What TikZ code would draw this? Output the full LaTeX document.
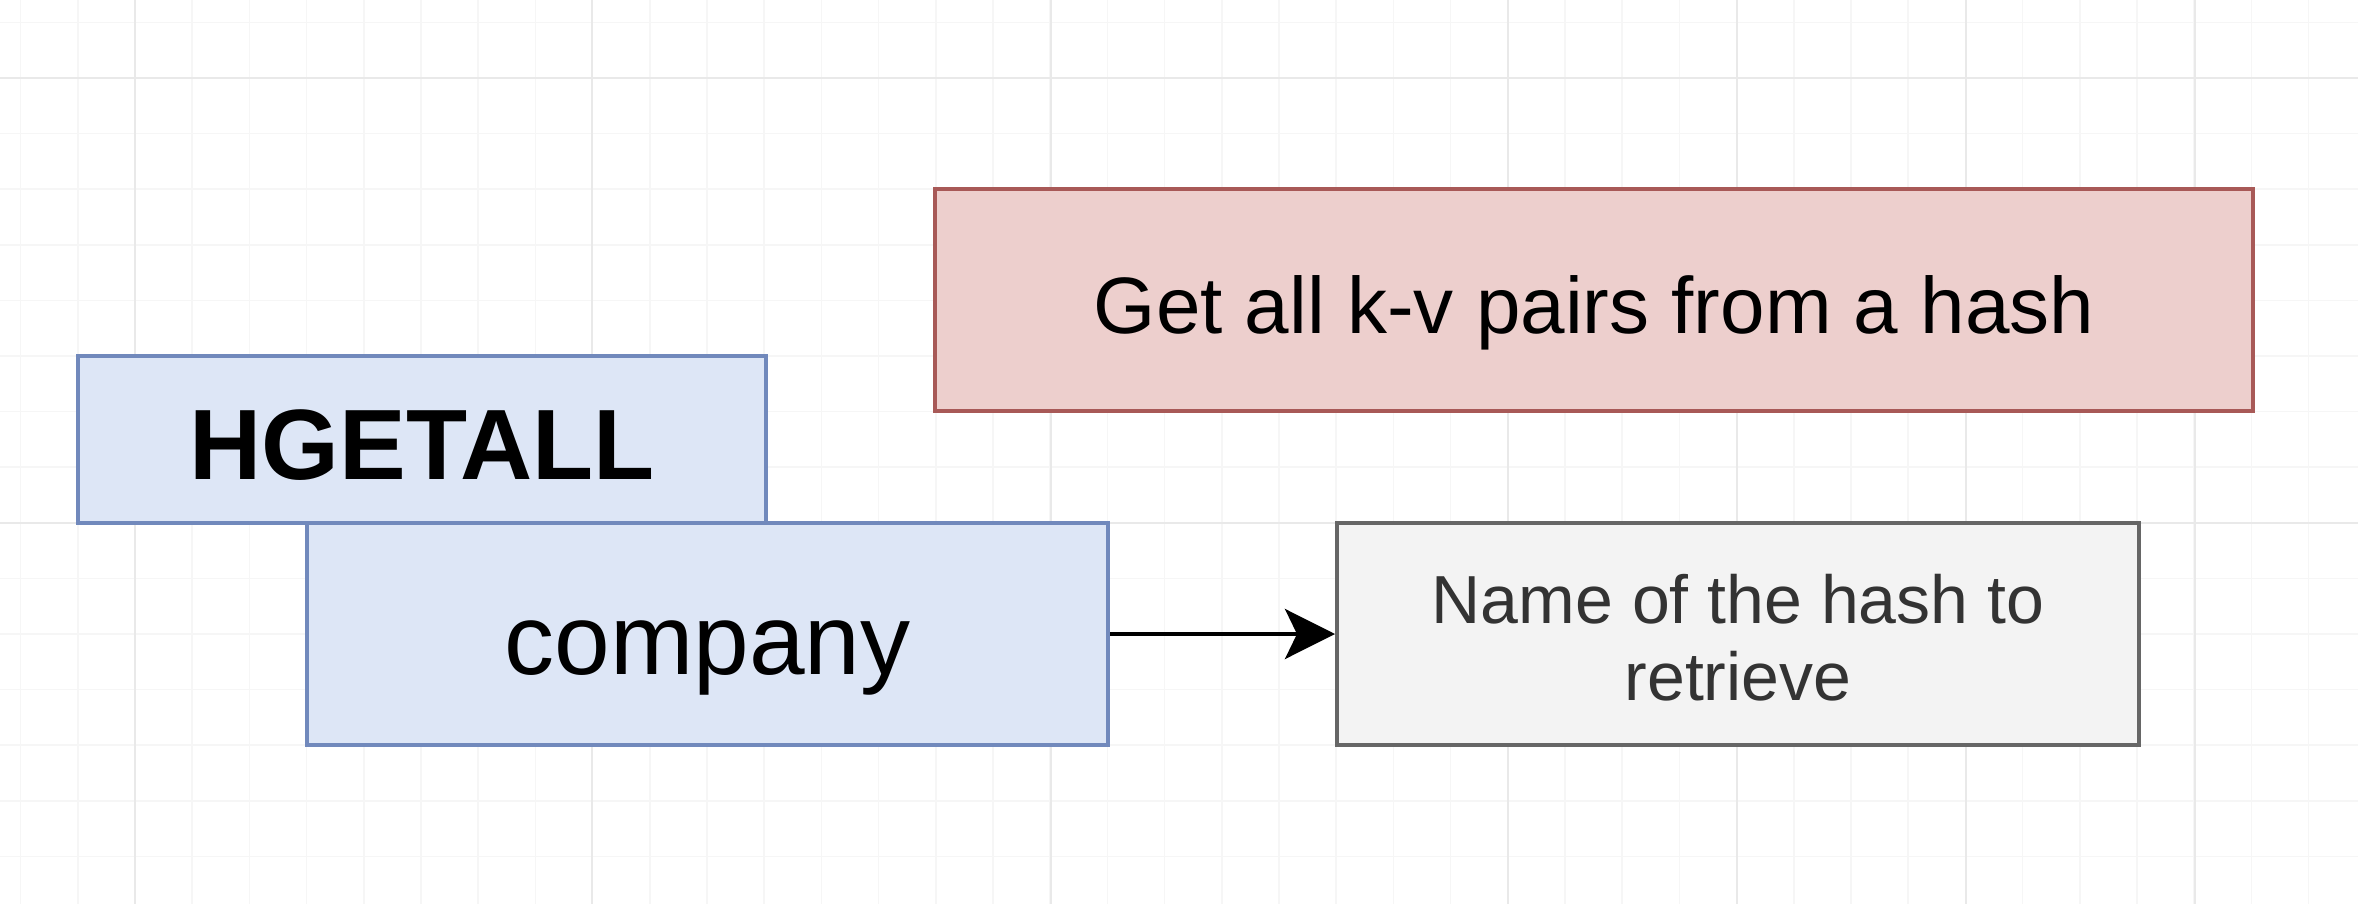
\documentclass[tikz,border=0pt]{standalone}
\usepackage{fontspec}
\setmainfont{Liberation Sans}
\usetikzlibrary{arrows.meta}
\definecolor{blueFill}{HTML}{DDE6F6}
\definecolor{blueLine}{HTML}{7189BC}
\definecolor{redFill}{HTML}{EDCFCD}
\definecolor{redLine}{HTML}{A85957}
\definecolor{grayFill}{HTML}{F3F3F3}
\definecolor{grayLine}{HTML}{666666}
\definecolor{gridMinor}{HTML}{F6F6F6}
\definecolor{gridMajor}{HTML}{E9E9E9}
\tikzstyle{minor} = [draw=gridMinor, line width=0.8pt]
\tikzstyle{major} = [draw=gridMajor, line width=1pt]
\tikzstyle{cmd} = [draw=blueLine, fill=blueFill, line width=2pt, inner sep=0pt,
    font=\fontsize{50pt}{60pt}\selectfont, text height=40pt, text depth=0pt]
\tikzstyle{desc} = [draw=redLine, fill=redFill, line width=2pt, inner sep=0pt,
    font=\fontsize{40pt}{48pt}\selectfont, text height=33pt, text depth=0pt]
\tikzstyle{note} = [draw=grayLine, fill=grayFill, line width=2pt, inner sep=0pt, align=center, text=black!80,
    font=\fontsize{34pt}{38.5pt}\selectfont, text height=66pt, text depth=0pt]
\tikzstyle{link} = [line width=2pt, -{Stealth[length=25pt, width=25pt, inset=6pt]}]

\begin{document}
\begin{tikzpicture}[x=0.5pt, y=-0.5pt]
    \fill[white] (0,0) rectangle (2358,904);
    \useasboundingbox (0,0) rectangle (2358,904);

    % grid
    \foreach \i in {0,...,41}
    \draw[minor] ({20.6+57.2*\i},0) -- ({20.6+57.2*\i},904);
    \foreach \j in {0,...,15}
    \draw[minor] (0,{22.4+55.6*\j}) -- (2358,{22.4+55.6*\j});
    \foreach \x in {135, 592, 1051, 1508, 1737, 1966, 2195}
    \draw[major] (\x,0) -- (\x,904);
    \foreach \y in {78, 523}
    \draw[major] (0,\y) -- (2358,\y);

    % command and argument
    \node[cmd, minimum width=344pt, minimum height=83.5pt] (hgetall) at (422,439.5)
        {\bfseries HGETALL};
    \node[cmd, minimum width=400.5pt, minimum height=111pt] (company) at (707.5,634)
        {company};

    % descriptions
    \node[desc, minimum width=659pt, minimum height=111pt] (about) at (1594,300)
        {Get all k-v pairs from a hash};
    \node[note, minimum width=401pt, minimum height=111pt] (keyname) at (1738,634)
        {Name of the hash to\\retrieve};

    \draw[link] (company) -- (keyname);
\end{tikzpicture}
\end{document}
